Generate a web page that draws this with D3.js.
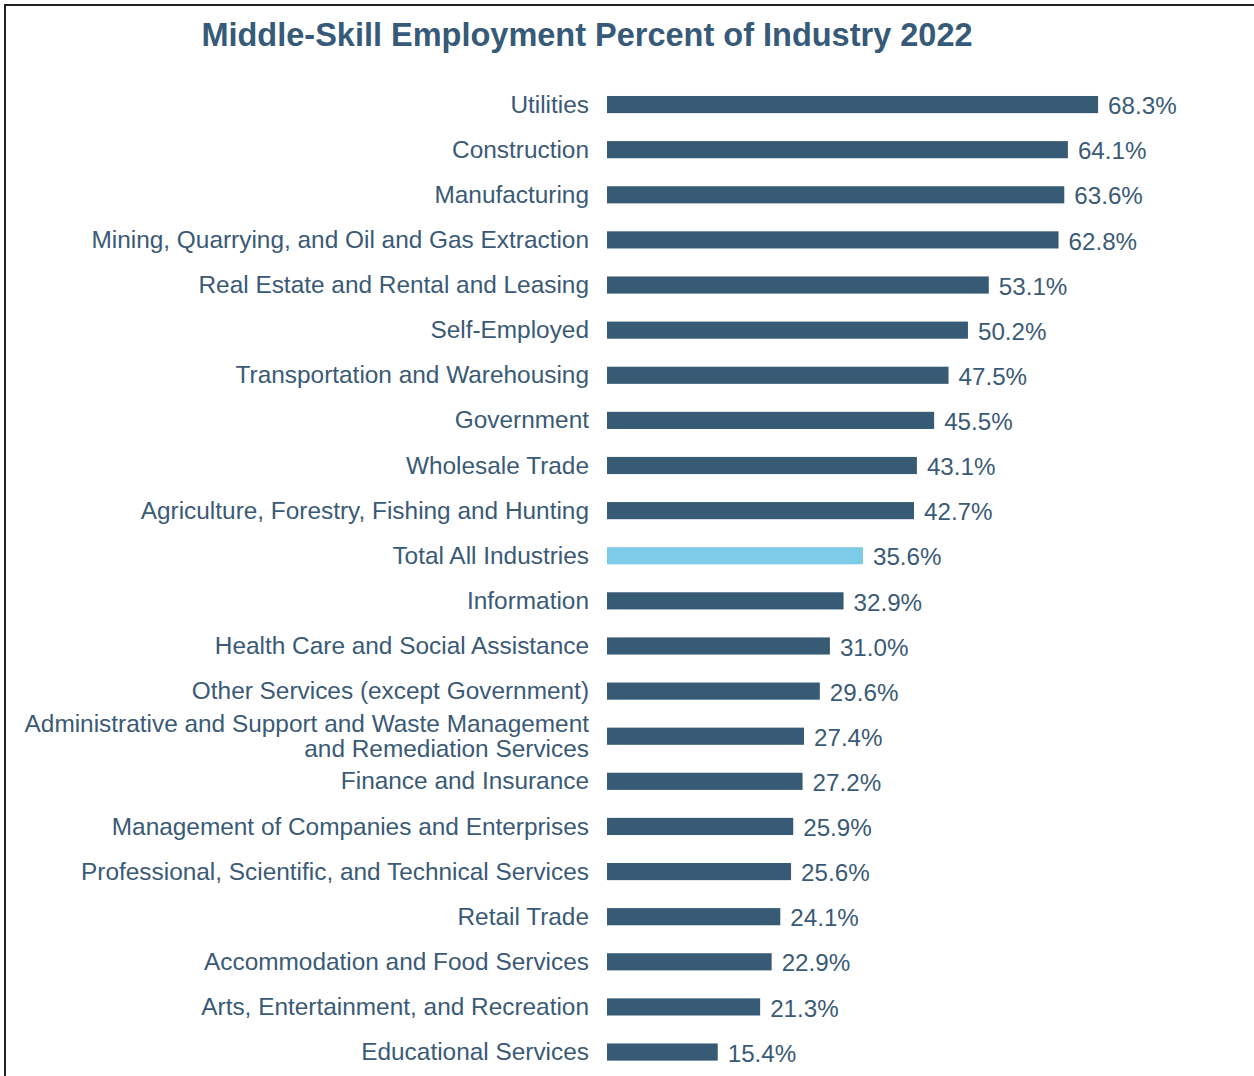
<!DOCTYPE html>
<html>
<head>
<meta charset="utf-8">
<script src="https://cdn.jsdelivr.net/npm/d3@7"></script>
<style>
  html, body { margin: 0; padding: 0; background: #fff; }
  svg { display: block; }
</style>
</head>
<body>
<svg id="chart" width="1254" height="1076"></svg>
<script>
// Industries, top to bottom
const industries = [
  "Utilities",
  "Construction",
  "Manufacturing",
  "Mining, Quarrying, and Oil and Gas Extraction",
  "Real Estate and Rental and Leasing",
  "Self-Employed",
  "Transportation and Warehousing",
  "Government",
  "Wholesale Trade",
  "Agriculture, Forestry, Fishing and Hunting",
  "Total All Industries",
  "Information",
  "Health Care and Social Assistance",
  "Other Services (except Government)",
  "Administrative and Support and Waste Management|and Remediation Services",
  "Finance and Insurance",
  "Management of Companies and Enterprises",
  "Professional, Scientific, and Technical Services",
  "Retail Trade",
  "Accommodation and Food Services",
  "Arts, Entertainment, and Recreation",
  "Educational Services"
];

// Middle-skill share of each industry's employment, percent
const middleSkillPct = [
  68.3, 64.1, 63.6, 62.8, 53.1, 50.2, 47.5, 45.5, 43.1, 42.7,
  35.6, 32.9, 31.0, 29.6, 27.4, 27.2, 25.9, 25.6, 24.1, 22.9, 21.3, 15.4
];

const highlight = "Total All Industries";
const title = "Middle-Skill Employment Percent of Industry 2022";

const data = industries.map((name, i) => ({ name, value: middleSkillPct[i] }));

const svg = d3.select("#chart");
const font = "'Liberation Sans', Arial, sans-serif";
const textColor = "#3a5a76";
const barColor = "#375a75";
const highlightColor = "#7ecbe8";

// outer frame
svg.append("rect")
  .attr("x", 5).attr("y", 5)
  .attr("width", 1300).attr("height", 1200)
  .attr("fill", "none")
  .attr("stroke", "#222")
  .attr("stroke-width", 2);

svg.append("text")
  .attr("x", 587).attr("y", 46)
  .attr("text-anchor", "middle")
  .attr("font-family", font)
  .attr("font-weight", "bold")
  .attr("font-size", 32.5)
  .attr("fill", "#365a77")
  .text(title);

const x0 = 607;
const x = d3.scaleLinear().domain([0, 100]).range([x0, x0 + 719]);

const y = d3.scaleBand()
  .domain(data.map(d => d.name))
  .range([82, 1074.6])
  .paddingInner(0.62)
  .paddingOuter(0.31);

const rows = svg.append("g");

rows.selectAll("rect.bar")
  .data(data)
  .join("rect")
  .attr("class", "bar")
  .attr("x", x(0))
  .attr("y", d => y(d.name))
  .attr("width", d => x(d.value) - x(0))
  .attr("height", y.bandwidth())
  .attr("fill", d => d.name === highlight ? highlightColor : barColor);

// category labels (right aligned, "|" splits a two-line label)
rows.selectAll("text.cat")
  .data(data)
  .join("text")
  .attr("class", "cat")
  .attr("text-anchor", "end")
  .attr("font-family", font)
  .attr("font-size", 24.4)
  .attr("fill", textColor)
  .each(function(d) {
    const lines = d.name.split("|");
    const cy = y(d.name) + y.bandwidth() / 2;
    const lh = 24.5;
    const start = cy - (lines.length - 1) * lh / 2;
    d3.select(this).selectAll("tspan")
      .data(lines)
      .join("tspan")
      .attr("x", 589)
      .attr("y", (l, i) => start + i * lh)
      .attr("dy", "0.33em")
      .text(l => l);
  });

// value labels
rows.selectAll("text.val")
  .data(data)
  .join("text")
  .attr("class", "val")
  .attr("x", d => x(d.value) + 10)
  .attr("y", d => y(d.name) + y.bandwidth() / 2)
  .attr("dy", "0.4em")
  .attr("font-family", font)
  .attr("font-size", 24.2)
  .attr("fill", textColor)
  .text(d => d3.format(".1f")(d.value) + "%");
</script>
</body>
</html>
